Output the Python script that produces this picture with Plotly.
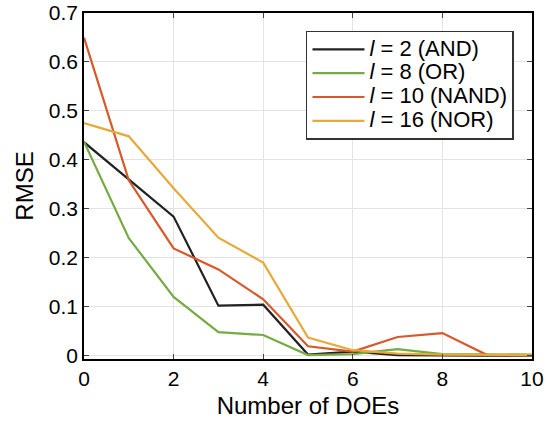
import plotly.graph_objects as go

x_doe = [0, 1, 2, 3, 4, 5, 6, 7, 8, 9, 10]
rmse_and = [0.436, 0.360, 0.284, 0.102, 0.104, 0.002, 0.008, 0.001, 0.000, 0.000, 0.000]
rmse_or = [0.437, 0.240, 0.120, 0.048, 0.042, 0.001, 0.003, 0.013, 0.003, 0.002, 0.002]
rmse_nand = [0.650, 0.358, 0.219, 0.176, 0.115, 0.019, 0.008, 0.038, 0.046, 0.001, 0.001]
rmse_nor = [0.475, 0.448, 0.342, 0.241, 0.190, 0.037, 0.011, 0.004, 0.002, 0.001, 0.001]

names = ["<i>l</i> = 2 (AND)", "<i>l</i> = 8 (OR)", "<i>l</i> = 10 (NAND)", "<i>l</i> = 16 (NOR)"]
colors = ["#222222", "#75AB42", "#D8582A", "#E7A93A"]
series = [rmse_and, rmse_or, rmse_nand, rmse_nor]

x_ticks = [0, 2, 4, 6, 8, 10]
y_ticks = [0, 0.1, 0.2, 0.3, 0.4, 0.5, 0.6, 0.7]
y_tick_labels = ["0", "0.1", "0.2", "0.3", "0.4", "0.5", "0.6", "0.7"]

fig = go.Figure()
for name, col, ys in zip(names, colors, series):
    label = '<span style="font-size:22px">' + name + '</span>'
    fig.add_trace(go.Scatter(x=x_doe, y=ys, mode="lines", name=label,
                             line=dict(color=col, width=2.2)))

font = "Liberation Sans, Arial, Helvetica, sans-serif"
fig.update_layout(
    width=553, height=424,
    margin=dict(l=84, r=21, t=13, b=65, autoexpand=False),
    paper_bgcolor="white", plot_bgcolor="white",
    font=dict(family=font, size=21, color="black"),
    showlegend=True,
    legend=dict(x=0.4955, y=0.948, xanchor="left", yanchor="top",
                bgcolor="white", bordercolor="#333333", borderwidth=1.5,
                font=dict(size=16), tracegroupgap=0, itemwidth=52),
    xaxis=dict(range=[0, 10], tickvals=x_ticks, ticks="inside", ticklen=5,
               showline=True, linecolor="black", linewidth=1.5, mirror="allticks",
               showgrid=True, gridcolor="#e3e3e3", gridwidth=1, zeroline=False,
               automargin=False,
               title=dict(text="Number of DOEs", standoff=8, font=dict(size=24)),
               tickfont=dict(size=21)),
    yaxis=dict(range=[-0.007, 0.7], tickvals=y_ticks, ticktext=y_tick_labels,
               ticks="inside", ticklen=5,
               showline=True, linecolor="black", linewidth=1.5, mirror="allticks",
               showgrid=True, gridcolor="#e3e3e3", gridwidth=1, zeroline=False,
               automargin=False,
               title=dict(text="RMSE", standoff=8, font=dict(size=24)),
               tickfont=dict(size=21)),
)

fig.write_html("out.html")
